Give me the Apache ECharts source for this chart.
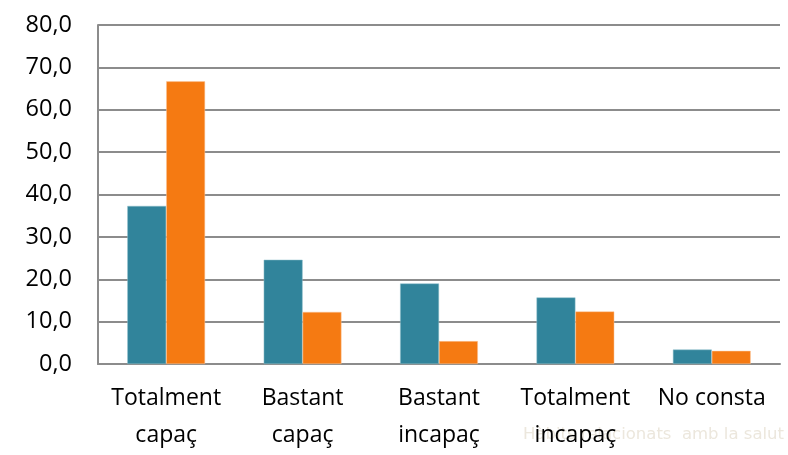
<!DOCTYPE html>
<html><head><meta charset="utf-8">
<script src="https://cdn.jsdelivr.net/npm/echarts@6/dist/echarts.min.js"></script>
<style>html,body{margin:0;padding:0;background:#fff}#c{width:788px;height:455px}</style>
</head><body><div id="c"></div>
<script>
const categories = ['Totalment\ncapaç', 'Bastant\ncapaç', 'Bastant\nincapaç', 'Totalment\nincapaç', 'No consta'];
const seriesA = [37.3, 24.6, 19.0, 15.7, 3.4];
const seriesB = [66.7, 12.3, 5.4, 12.4, 3.1];
const yTicks = [0, 10, 20, 30, 40, 50, 60, 70, 80];
const watermark = 'Hàbits relacionats  amb la salut';

const chart = echarts.init(document.getElementById('c'), null, {renderer: 'canvas'});
const font = '"Open Sans", "Noto Sans", sans-serif';
chart.setOption({
  animation: false,
  graphic: [{
    type: 'text', right: 4, bottom: 12, z: -1,
    style: {text: watermark, fill: '#ece7dd', font: '16.5px Verdana, "DejaVu Sans", sans-serif'}
  }],
  grid: {left: 98, right: 8, top: 25, bottom: 91, containLabel: false},
  xAxis: {
    type: 'category', data: categories,
    axisLine: {lineStyle: {color: '#8c8c8c', width: 2}},
    axisTick: {show: false},
    axisLabel: {color: '#000', fontFamily: font, fontSize: 23, lineHeight: 37, margin: 16, interval: 0}
  },
  yAxis: {
    type: 'value', min: yTicks[0], max: yTicks[yTicks.length - 1], interval: 10,
    axisLine: {show: true, lineStyle: {color: '#8c8c8c', width: 2}},
    axisTick: {show: false},
    splitLine: {lineStyle: {color: '#8c8c8c', width: 2}},
    axisLabel: {color: '#000', fontFamily: font, fontSize: 23.5, margin: 26,
      formatter: v => v.toFixed(1).replace('.', ',')}
  },
  series: [
    {type: 'bar', data: seriesA, barGap: '0%', barCategoryGap: '43%',
     itemStyle: {color: '#31849b', borderColor: '#8fbfcb', borderWidth: 0.5}},
    {type: 'bar', data: seriesB,
     itemStyle: {color: '#f57a12', borderColor: '#fbc9a0', borderWidth: 0.5}}
  ]
});
</script></body></html>
